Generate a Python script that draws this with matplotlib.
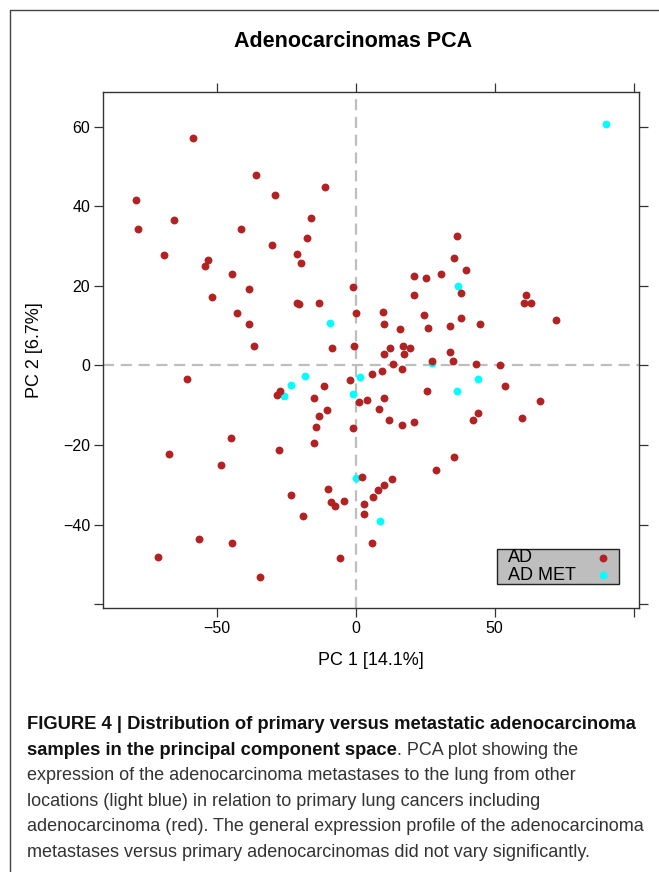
import matplotlib
matplotlib.use("Agg")
import matplotlib.pyplot as plt
from matplotlib.lines import Line2D
from matplotlib.patches import Rectangle

# primary adenocarcinomas (AD)
ad_pc1 = [-58.6, -36.0, -28.9, -11.2, -79.0, -65.4, -78.3, -41.1, -16.2, -17.6,
          -30.2, -68.9, -53.0, -54.3, -21.0, -19.8, -44.5, -38.4, -51.7, -1.0,
          -21.2, -20.5, -13.2, -42.6, -38.4, 0.0, -36.5, -8.4, -0.7,
          36.3, 35.3, 39.7, 21.0, 25.2, 30.7, 38.0, 21.1, 61.2, 60.4,
          63.1, 9.9, 10.1, 16.0, 24.7, 26.0, 33.8, 37.8, 44.8, 72.1,
          10.1, 12.2, 17.0, 17.5, 19.6, 34.0, 35.0, 27.3, 43.2, 51.8,
          13.5, 16.5, 9.4, 5.8, -2.2, 25.5, 53.7, 66.4, 1.1, 4.2,
          10.1, 8.5, 11.9, 16.5, 21.1, 42.3, 44.0, 59.9, 35.5, 29.0,
          2.3, 13.1, 10.3, 8.0, 6.2, 2.9, 3.0, 5.9,
          -60.7, -27.2, -28.2, -11.5, -14.9, -10.2, -13.2, -14.3, -0.9, -15.0,
          -44.7, -27.5, -67.2, -48.6, -10.1, -23.4, -9.0, -7.4, -4.2, -19.0,
          -56.5, -44.5, -71.0, -5.5, -34.3]
ad_pc2 = [57.3, 47.9, 42.8, 44.8, 41.7, 36.5, 34.3, 34.2, 37.0, 32.1,
          30.4, 27.8, 26.5, 25.0, 28.0, 25.8, 22.9, 19.2, 17.2, 19.8,
          15.6, 15.5, 15.8, 13.3, 10.4, 13.1, 4.9, 4.3, 4.9,
          32.5, 27.1, 24.0, 22.5, 21.9, 22.9, 18.2, 17.6, 17.8, 15.6,
          15.6, 13.4, 10.4, 9.1, 12.8, 9.5, 9.9, 11.9, 10.4, 11.5,
          3.0, 4.3, 4.8, 3.0, 4.3, 3.5, 1.2, 1.1, 0.3, 0.2,
          0.3, -0.9, -1.5, -2.2, -3.6, -6.5, -5.2, -9.0, -9.3, -8.8,
          -8.1, -11.0, -13.8, -15.1, -14.2, -13.8, -12.0, -13.2, -22.9, -26.4,
          -28.1, -28.5, -30.0, -31.4, -33.1, -34.8, -37.4, -44.6,
          -3.5, -6.5, -7.5, -5.2, -8.3, -11.3, -12.8, -15.4, -15.8, -19.4,
          -18.3, -21.2, -22.3, -25.1, -31.0, -32.7, -34.4, -35.3, -34.2, -37.9,
          -43.6, -44.7, -48.1, -48.5, -53.2]

# metastases to the lung (AD MET)
met_pc1 = [90.0, 36.9, -9.2, -18.2, -23.4, -25.7, 1.4, -0.9, 44.1, 36.4, 0.1, 8.6, 27.3]
met_pc2 = [60.7, 20.0, 10.8, -2.7, -5.0, -7.8, -3.0, -7.2, -3.4, -6.3, -28.2, -39.2, 0.6]

groups = ["AD", "AD MET"]
group_colors = ["#B22222", "#00FFFF"]

x_ticks = [-50, 0, 50, 100]
x_tick_labels = ["\u221250", "0", "50", ""]
y_ticks = [-60, -40, -20, 0, 20, 40, 60]
y_tick_labels = ["", "\u221240", "\u221220", "0", "20", "40", "60"]

caption_lines = [
    ("FIGURE 4 | Distribution of primary versus metastatic adenocarcinoma", ""),
    ("samples in the principal component space", ". PCA plot showing the"),
    ("", "expression of the adenocarcinoma metastases to the lung from other"),
    ("", "locations (light blue) in relation to primary lung cancers including"),
    ("", "adenocarcinoma (red). The general expression profile of the adenocarcinoma"),
    ("", "metastases versus primary adenocarcinomas did not vary significantly."),
]

plt.rcParams["font.family"] = ["Liberation Sans", "DejaVu Sans"]

W, H = 659, 872
fig = plt.figure(figsize=(W / 100, H / 100), dpi=100)
fig.patch.set_facecolor("white")

# outer frame (only left and top edges are inside the crop)
fig.add_artist(Line2D([9.5 / W, 9.5 / W, 1.0], [0.0, 1 - 10 / H, 1 - 10 / H],
                      transform=fig.transFigure, color="#444444", lw=1.0))

left, right, top, bottom = 103.3, 638.7, 92.3, 608.0
ax = fig.add_axes([left / W, 1 - bottom / H, (right - left) / W, (bottom - top) / H])

ax.axvline(0, color="#BEBEBE", lw=1.6, dashes=(5, 3), zorder=1)
ax.axhline(0, color="#BEBEBE", lw=1.6, dashes=(5, 3), zorder=1)

dot = 32
ax.scatter(met_pc1, met_pc2, s=dot, color=group_colors[1], linewidths=0, zorder=2)
ax.scatter(ad_pc1, ad_pc2, s=dot, color=group_colors[0], linewidths=0, zorder=3)

ax.set_xlim(-90.8, 101.8)
ax.set_ylim(-61.0, 68.7)
ax.set_xticks(x_ticks)
ax.set_xticklabels(x_tick_labels)
ax.set_yticks(y_ticks)
ax.set_yticklabels(y_tick_labels)
ax.tick_params(direction="out", length=6.5, width=0.9, color="#333333",
               top=True, right=True, labeltop=False, labelright=False,
               labelsize=11.5, pad=3)
for sp in ax.spines.values():
    sp.set_color("#333333")
    sp.set_linewidth(1.0)

ax.set_xlabel("PC 1 [14.1%]", fontsize=13)
ax.xaxis.label.set_va("center")
ax.xaxis.set_label_coords(0.5, (bottom - 660) / (bottom - top))
ax.set_ylabel("PC 2 [6.7%]", fontsize=13)
ax.yaxis.label.set_va("center")
ax.yaxis.set_label_coords((35 - left) / (right - left), 0.5)

# key box, lattice style
ax.add_patch(Rectangle((0.736, 0.046), 0.227, 0.068, transform=ax.transAxes,
                       facecolor="#BEBEBE", edgecolor="#222222", lw=1.0, zorder=4))
for i, (name, col) in enumerate(zip(groups, group_colors)):
    ypos = 0.097 - i * 0.0336
    ax.text(0.756, ypos, name, transform=ax.transAxes, fontsize=13,
            ha="left", va="center", zorder=5)
    ax.scatter([0.933], [ypos], s=dot, color=col, linewidths=0,
               transform=ax.transAxes, zorder=5)

fig.text(353 / W, 1 - 41.7 / H, "Adenocarcinomas PCA", ha="center", va="center",
         fontsize=15.5, weight="bold")

# caption
x0 = 27 / W
for i, (bold, regular) in enumerate(caption_lines):
    yb = 1 - (729 + 25.5 * i) / H
    if bold:
        bt = fig.text(x0, yb, bold, fontsize=13.2, weight="bold", color="#111111",
                      ha="left", va="baseline")
        if regular:
            ax.annotate(regular, xy=(1, 0), xycoords=bt, fontsize=13.0,
                        color="#333333", ha="left", va="bottom",
                        annotation_clip=False)
    else:
        fig.text(x0, yb, regular, fontsize=13.0, color="#333333",
                 ha="left", va="baseline")

fig.savefig("out.png", dpi=100, facecolor="white")
